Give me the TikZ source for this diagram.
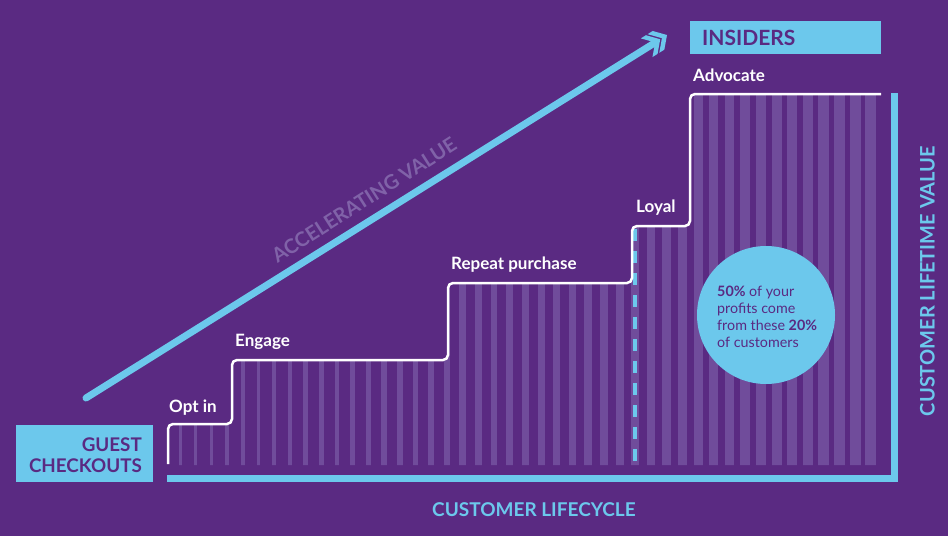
\documentclass[tikz,border=0pt]{standalone}
\usepackage{fontspec}
\setmainfont{Lato}
\definecolor{bgpurple}{RGB}{90,42,130}
\definecolor{lblue}{RGB}{108,200,236}
\definecolor{stripecol}{RGB}{112,76,155}
\definecolor{accelcol}{RGB}{128,98,168}
\tikzset{
  steplabel/.style={text=white, font=\bfseries\fontsize{17}{19}\selectfont, inner sep=0pt, anchor=base west},
  ctext/.style={text=bgpurple, font=\fontsize{14.3}{17}\selectfont, inner sep=0pt, anchor=base west},
  boxtext/.style={text=bgpurple, font=\bfseries\fontsize{18.8}{21}\selectfont, inner sep=0pt},
  axistext/.style={text=lblue, font=\bfseries\fontsize{19}{22}\selectfont, inner sep=0pt},
  stairline/.style={draw=white, line width=2.5pt, rounded corners=5pt},
  axisline/.style={draw=lblue, line width=7pt},
}
\begin{document}
\begin{tikzpicture}[x=1pt,y=-1pt]
\useasboundingbox (0,0) rectangle (948,536);
\fill[bgpurple] (0,0) rectangle (948,536);

% stripes under the staircase
\begin{scope}
\clip[rounded corners=4pt] (168,465) -- (168,424) -- (232,424) -- (232,360) -- (448,360) -- (448,283) -- (632,283) -- (632,226) -- (690,226) -- (690,94) -- (880,94) -- (880,465) -- cycle;
\foreach \n in {0,...,45}{
  \pgfmathsetmacro\cx{180+15.7*\n}
  \pgfmathsetmacro\w{3+8*\n/44}
  \fill[stripecol] ({\cx-\w/2},80) rectangle ({\cx+\w/2},470);
}
\end{scope}

% dashed loyalty line
\draw[lblue, line width=4.5pt, dash pattern=on 12pt off 10pt] (635,229) -- (635,463);

% staircase
\draw[stairline] (168,464) -- (168,424) -- (232,424) -- (232,360) -- (448,360) -- (448,283) -- (632,283) -- (632,226) -- (690,226) -- (690,94) -- (881,94);

% axes
\coordinate (origin) at (894.5,478.5);
\coordinate (xstart) at (167,478.5);
\coordinate (ytop) at (894.5,93);
\draw[axisline] (xstart) -- (origin) -- (ytop);

% step labels
\node[steplabel] (optin) at (169,412) {Opt in};
\node[steplabel] (engage) at (235,346) {Engage};
\node[steplabel] (repeat) at (451,269) {Repeat purchase};
\node[steplabel] (loyal) at (636,212) {Loyal};
\node[steplabel] (advocate) at (693,81) {Advocate};

% circle
\fill[lblue] (766,315) circle (69);
\node[ctext] (c1) at (717,296) {\textbf{50\%} of your};
\node[ctext] (c2) at (717,313) {profits come};
\node[ctext] (c3) at (717,330) {from these \textbf{20\%}};
\node[ctext] (c4) at (717,347) {of customers};

% guest checkouts box
\fill[lblue] (16,425) rectangle (153,482);
\node[boxtext, anchor=base east] (guest) at (142,451) {GUEST};
\node[boxtext, anchor=base east] (checkouts) at (142,472) {CHECKOUTS};

% insiders box
\fill[lblue] (690,21) rectangle (881,54);
\node[boxtext, font=\bfseries\fontsize{21}{24}\selectfont, anchor=base west] (insiders) at (702,45) {INSIDERS};

% axis titles
\node[axistext, anchor=base west] (lifecycle) at (432,516) {CUSTOMER LIFECYCLE};
\node[axistext, font=\bfseries\fontsize{20}{22}\selectfont, rotate=90] (ltv) at (927.5,281) {CUSTOMER LIFETIME VALUE};

% accelerating value arrow
\coordinate (astart) at (86,398);
\coordinate (aend) at (654.3,43.1);
\draw[lblue, line width=7pt, line cap=round] (astart) -- (aend);
\begin{scope}[shift={(667,35)}, rotate=32]
  \fill[lblue] (0,0) -- (-10,-11) -- (-16,-11) -- (-6,0) -- (-16,11) -- (-10,11) -- cycle;
  \fill[lblue] (-8,0) -- (-18,-11) -- (-24,-11) -- (-14,0) -- (-24,11) -- (-18,11) -- cycle;
\end{scope}
\node[text=accelcol, font=\bfseries\fontsize{20}{22}\selectfont, inner sep=0pt, rotate=32.5] (accel) at (364,200) {ACCELERATING VALUE};
\end{tikzpicture}
\end{document}
